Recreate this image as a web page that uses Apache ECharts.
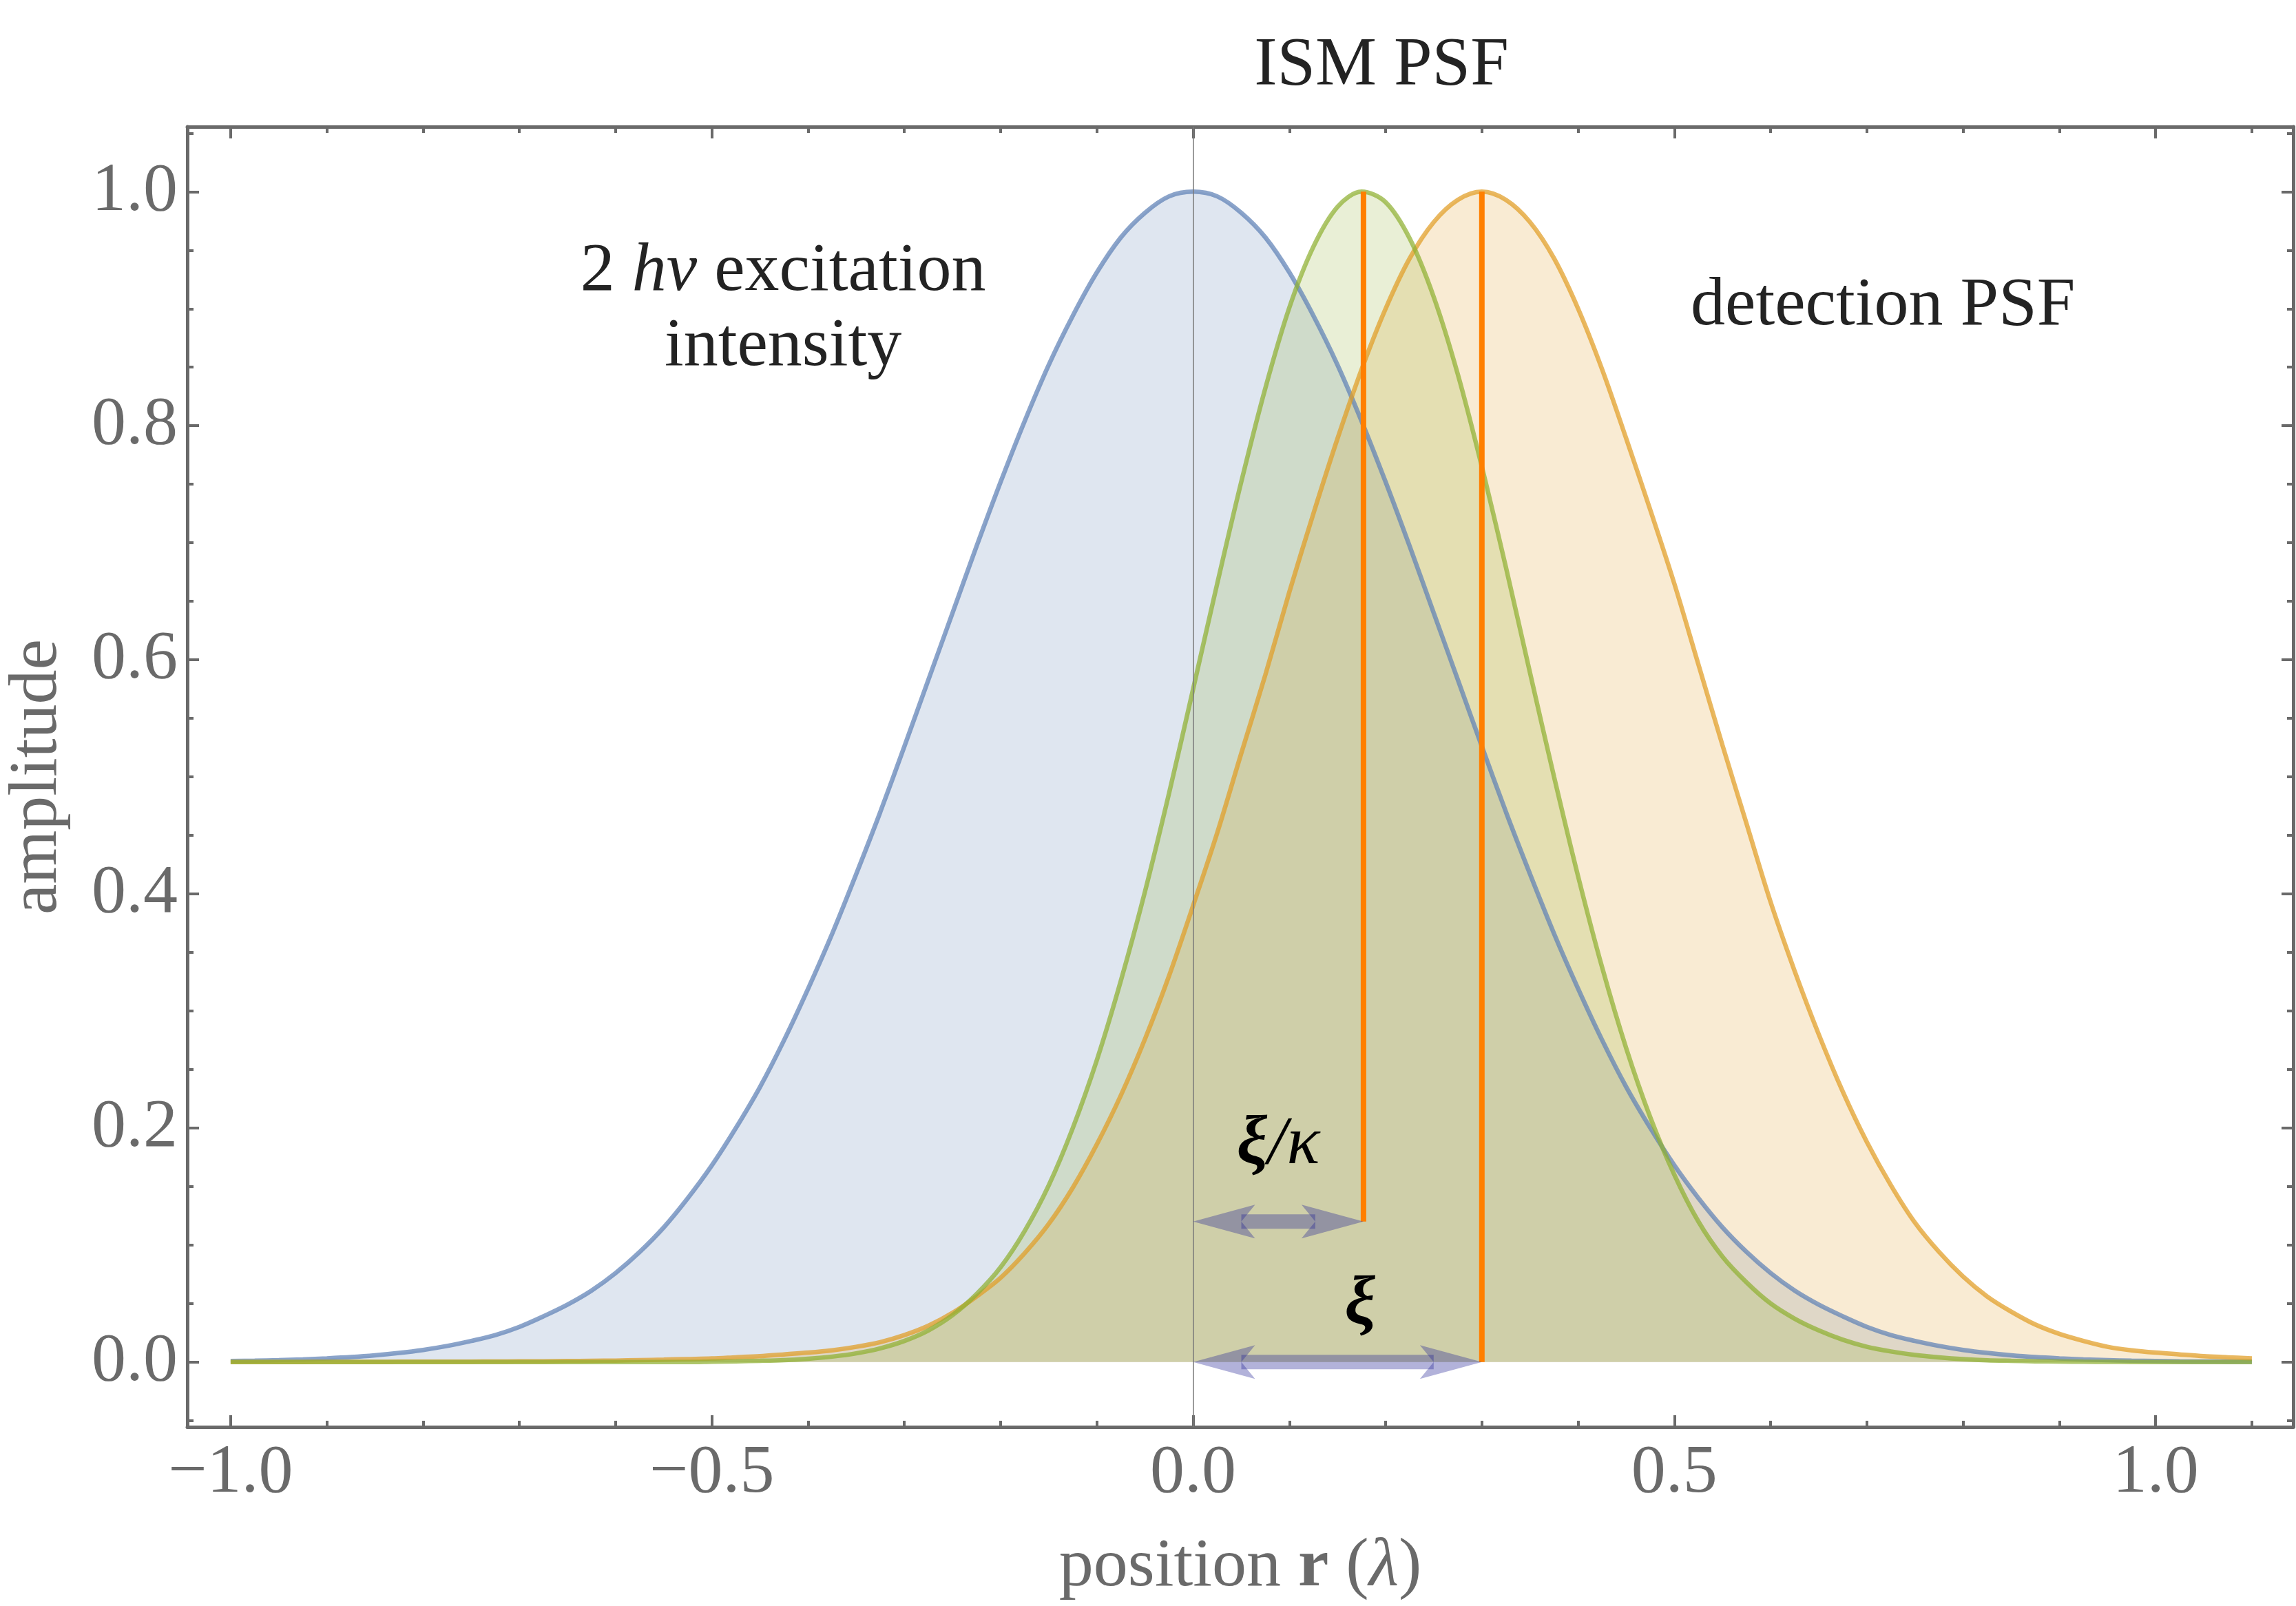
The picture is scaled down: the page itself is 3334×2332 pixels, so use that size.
<!DOCTYPE html>
<html lang="en">
<head>
<meta charset="utf-8">
<title>ISM PSF</title>
<script src="https://cdn.jsdelivr.net/npm/echarts@6.0.0/dist/echarts.min.js"></script>
<style>
  html, body { margin: 0; padding: 0; background: #ffffff; }
  #chart { width: 3334px; height: 2332px; }
</style>
</head>
<body>
<div id="chart"></div>
<script>
// position r (in units of lambda)
var positions = [-1.0, -0.975, -0.95, -0.925, -0.9, -0.875, -0.85, -0.825, -0.8, -0.775,
    -0.75, -0.725, -0.7, -0.675, -0.65, -0.625, -0.6, -0.575, -0.55, -0.525,
    -0.5, -0.475, -0.45, -0.425, -0.4, -0.375, -0.35, -0.325, -0.3, -0.275,
    -0.25, -0.225, -0.2, -0.175, -0.15, -0.125, -0.1, -0.075, -0.05, -0.025,
    0, 0.025, 0.05, 0.075, 0.1, 0.125, 0.15, 0.175, 0.2, 0.225,
    0.25, 0.275, 0.3, 0.325, 0.35, 0.375, 0.4, 0.425, 0.45, 0.475,
    0.5, 0.525, 0.55, 0.575, 0.6, 0.625, 0.65, 0.675, 0.7, 0.725,
    0.75, 0.775, 0.8, 0.825, 0.85, 0.875, 0.9, 0.925, 0.95, 0.975,
    1.0, 1.025, 1.05, 1.075, 1.1];
// 2 h-nu excitation intensity (blue)
var excitation = [0.0008, 0.0011, 0.0016, 0.0022, 0.0031, 0.0042, 0.0057, 0.0077, 0.0103, 0.0137,
    0.018, 0.023, 0.030, 0.039, 0.049, 0.061, 0.076, 0.094, 0.115, 0.140,
    0.168, 0.200, 0.235, 0.275, 0.319, 0.366, 0.417, 0.470, 0.526, 0.583,
    0.640, 0.697, 0.752, 0.804, 0.852, 0.894, 0.931, 0.961, 0.982, 0.996,
    1.000, 0.996, 0.982, 0.961, 0.931, 0.894, 0.852, 0.804, 0.752, 0.697,
    0.640, 0.583, 0.526, 0.470, 0.417, 0.366, 0.319, 0.275, 0.235, 0.200,
    0.168, 0.140, 0.115, 0.094, 0.076, 0.061, 0.049, 0.039, 0.030, 0.023,
    0.018, 0.0137, 0.0103, 0.0077, 0.0057, 0.0042, 0.0031, 0.0022, 0.0016, 0.0011,
    0.0008, 0.0005, 0.0004, 0.0003, 0.0002];
// detection PSF (orange)
var detection = [0, 0, 0, 0, 0.0001, 0.0001, 0.0001, 0.0002, 0.0002, 0.0003,
    0.0003, 0.0004, 0.0005, 0.0006, 0.0008, 0.001, 0.0012, 0.0016, 0.002, 0.0025,
    0.003, 0.004, 0.005, 0.0065, 0.008, 0.010, 0.013, 0.017, 0.023, 0.031,
    0.042, 0.056, 0.072, 0.093, 0.118, 0.149, 0.186, 0.228, 0.276, 0.330,
    0.390, 0.452, 0.520, 0.587, 0.658, 0.725, 0.789, 0.848, 0.900, 0.943,
    0.974, 0.993, 1.000, 0.993, 0.974, 0.943, 0.900, 0.848, 0.789, 0.728,
    0.665, 0.596, 0.527, 0.460, 0.393, 0.334, 0.280, 0.231, 0.188, 0.151,
    0.119, 0.094, 0.073, 0.056, 0.043, 0.032, 0.024, 0.018, 0.013, 0.010,
    0.008, 0.0065, 0.005, 0.004, 0.003];
// ISM PSF (green)
var ismPsf = [0, 0, 0, 0, 0, 0, 0, 0, 0, 0,
    0, 0, 0, 0, 0, 0, 0, 0, 0, 0,
    0.0003, 0.0006, 0.001, 0.0016, 0.0028, 0.0046, 0.0074, 0.0117, 0.018, 0.027,
    0.040, 0.058, 0.081, 0.112, 0.151, 0.200, 0.258, 0.326, 0.402, 0.486,
    0.575, 0.665, 0.752, 0.832, 0.901, 0.953, 0.987, 1.000, 0.991, 0.960,
    0.910, 0.844, 0.765, 0.679, 0.589, 0.500, 0.415, 0.337, 0.268, 0.209,
    0.160, 0.120, 0.090, 0.068, 0.050, 0.037, 0.027, 0.019, 0.013, 0.009,
    0.006, 0.004, 0.0025, 0.0015, 0.001, 0.0006, 0.0004, 0.0002, 0.0001, 0,
    0, 0, 0, 0, 0];

// shifts: detection PSF at xi, ISM PSF peak at xi/kappa
var xi = 0.3;
var xiOverKappa = 0.177;
var xiOverKappaLevel = 0.12;
var peakLevel = 1.0;
// double arrows [from, to, level]
var arrows = [[0, xiOverKappa, xiOverKappaLevel], [0, xi, 0]];

// frame ticks
var xMajor = [-1, -0.5, 0, 0.5, 1];
var xMinor = [-0.9, -0.8, -0.7, -0.6, -0.4, -0.3, -0.2, -0.1, 0.1, 0.2, 0.3, 0.4, 0.6, 0.7, 0.8, 0.9, 1.1];
var yMajor = [0, 0.2, 0.4, 0.6, 0.8, 1.0];
var yMinor = [-0.05, 0.05, 0.1, 0.15, 0.25, 0.3, 0.35, 0.45, 0.5, 0.55, 0.65, 0.7, 0.75, 0.85, 0.9, 0.95, 1.05];
var xRange = [-1.045, 1.143];
var yRange = [-0.0555, 1.0555];

var serif = '"Liberation Serif", "Times New Roman", serif';
var frameGray = '#6a6a6a';
var ink = '#232323';

function tickText(v) {
    var s = Math.abs(v).toFixed(1);
    return v < 0 ? '\u2212' + s : s;
}

// one side of the frame: either major ticks (with line) or minor ticks only
function frameAxis(position, range, ticks, tickLen, withLine, withLabels) {
    return {
        type: 'value',
        position: position,
        min: range[0],
        max: range[1],
        splitLine: { show: false },
        axisPointer: { show: false },
        axisLine: { show: withLine, onZero: false, lineStyle: { color: frameGray, width: 5 } },
        axisTick: {
            show: true, inside: true, length: tickLen, customValues: ticks,
            lineStyle: { color: frameGray, width: 4 }
        },
        axisLabel: withLabels ? {
            show: true, customValues: ticks, color: frameGray,
            fontFamily: serif, fontSize: 100, formatter: tickText
        } : { show: false }
    };
}

var xAxes = [
    frameAxis('bottom', xRange, xMajor, 17, true, true),
    frameAxis('bottom', xRange, xMinor, 9, false, false),
    frameAxis('top', xRange, xMajor, 17, true, false),
    frameAxis('top', xRange, xMinor, 9, false, false)
];
var yAxes = [
    frameAxis('left', yRange, yMajor, 17, true, true),
    frameAxis('left', yRange, yMinor, 9, false, false),
    frameAxis('right', yRange, yMajor, 17, true, false),
    frameAxis('right', yRange, yMinor, 9, false, false)
];
xAxes[0].axisLabel.margin = 18;
yAxes[0].axisLabel.margin = 14;

xAxes[0].name = '{t|position }{b|r}{t| (}{i|\u03bb}{t|)}';
xAxes[0].nameLocation = 'middle';
xAxes[0].nameGap = 154;
xAxes[0].nameTextStyle = {
    color: frameGray, fontFamily: serif, fontSize: 100,
    rich: {
        t: { color: frameGray, fontFamily: serif, fontSize: 100 },
        b: { color: frameGray, fontFamily: serif, fontSize: 100, fontWeight: 'bold' },
        i: { color: frameGray, fontFamily: serif, fontSize: 100, fontStyle: 'italic' }
    }
};
yAxes[0].name = 'amplitude';
yAxes[0].nameLocation = 'middle';
yAxes[0].nameGap = 167;
yAxes[0].nameRotate = 90;
yAxes[0].nameTextStyle = { color: frameGray, fontFamily: serif, fontSize: 100 };

function psfSeries(name, values, color) {
    return {
        name: name,
        type: 'line',
        xAxisIndex: 0,
        yAxisIndex: 0,
        data: positions.map(function (x, i) { return [x, values[i]]; }),
        symbol: 'none',
        smooth: 0.33,
        silent: true,
        z: 2,
        lineStyle: { color: color, width: 6.5, opacity: 0.72 },
        areaStyle: { color: color, opacity: 0.2 }
    };
}

function shiftLine(x, from) {
    return {
        type: 'line',
        xAxisIndex: 0,
        yAxisIndex: 0,
        data: [[x, from], [x, peakLevel]],
        symbol: 'none',
        silent: true,
        z: 5,
        lineStyle: { color: '#ff7f00', width: 8 }
    };
}

var ism = psfSeries('ISM PSF', ismPsf, '#8fb032');
// thin vertical axis at r = 0
ism.markLine = {
    silent: true,
    symbol: 'none',
    label: { show: false },
    lineStyle: { color: '#7a7a7a', width: 1.5, type: 'solid' },
    data: [{ xAxis: 0 }]
};

var arrowSeries = {
    type: 'custom',
    xAxisIndex: 0,
    yAxisIndex: 0,
    silent: true,
    z: 6,
    data: arrows,
    encode: { x: [0, 1], y: 2 },
    renderItem: function (params, api) {
        var a = api.coord([api.value(0), api.value(2)]);
        var b = api.coord([api.value(1), api.value(2)]);
        var y = a[1];
        var len = 90, half = 24.5, shaft = 10.5, notch = 20;
        var fill = 'rgba(35,35,150,0.35)';
        return {
            type: 'group',
            children: [
                { type: 'polygon', shape: { points: [[a[0], y], [a[0] + len, y - half], [a[0] + len - notch, y], [a[0] + len, y + half]] }, style: { fill: fill } },
                { type: 'polygon', shape: { points: [[b[0], y], [b[0] - len, y - half], [b[0] - len + notch, y], [b[0] - len, y + half]] }, style: { fill: fill } },
                { type: 'rect', shape: { x: a[0] + len - notch, y: y - shaft, width: b[0] - a[0] - 2 * (len - notch), height: 2 * shaft }, style: { fill: fill } }
            ]
        };
    }
};

var chart = echarts.init(document.getElementById('chart'));
chart.setOption({
    animation: false,
    backgroundColor: '#ffffff',
    textStyle: { fontFamily: serif },
    grid: { left: 272, right: 4, top: 184, bottom: 260, containLabel: false, outerBoundsMode: 'none' },
    xAxis: xAxes,
    yAxis: yAxes,
    series: [
        psfSeries('2 h\u03bd excitation intensity', excitation, '#5e81b5'),
        psfSeries('detection PSF', detection, '#e19c24'),
        ism,
        shiftLine(xiOverKappa, xiOverKappaLevel),
        shiftLine(xi, 0),
        arrowSeries
    ]
});

// text notes, placed in data coordinates
function note(x, y, text, size, rich) {
    var p = chart.convertToPixel({ seriesIndex: 0 }, [x, y]);
    return {
        type: 'text', x: p[0], y: p[1], silent: true, z: 20,
        style: { text: text, align: 'center', verticalAlign: 'middle', fill: ink, font: size + 'px ' + serif, rich: rich }
    };
}
function rt(size, extra) {
    var s = { fontFamily: serif, fontSize: size, fill: ink, lineHeight: 109 };
    for (var k in extra) { s[k] = extra[k]; }
    return s;
}

chart.setOption({
    graphic: [
        {
            type: 'text', x: 2006, y: 96, silent: true, z: 20,
            style: { text: 'ISM PSF', align: 'center', verticalAlign: 'middle', fill: ink, font: '100px ' + serif }
        },
        note(-0.426, 0.8995, '{n|2 }{i|h\u03bd}{n| excitation}\n{n|intensity}', 100,
            { n: rt(100, {}), i: rt(100, { fontStyle: 'italic' }) }),
        note(0.7167, 0.9023, 'detection PSF', 100, {}),
        note(0.0884, 0.1854, '{x|\u03be}{s|/}{k|\u03ba}', 100,
            { x: rt(100, { fontStyle: 'italic', fontWeight: 'bold', fill: '#000' }),
              s: rt(100, { fontStyle: 'italic', fill: '#000' }),
              k: rt(100, { fontStyle: 'italic', fill: '#000' }) }),
        note(0.1735, 0.0483, '{x|\u03be}', 100,
            { x: rt(100, { fontStyle: 'italic', fontWeight: 'bold', fill: '#000' }) })
    ]
});
</script>
</body>
</html>
